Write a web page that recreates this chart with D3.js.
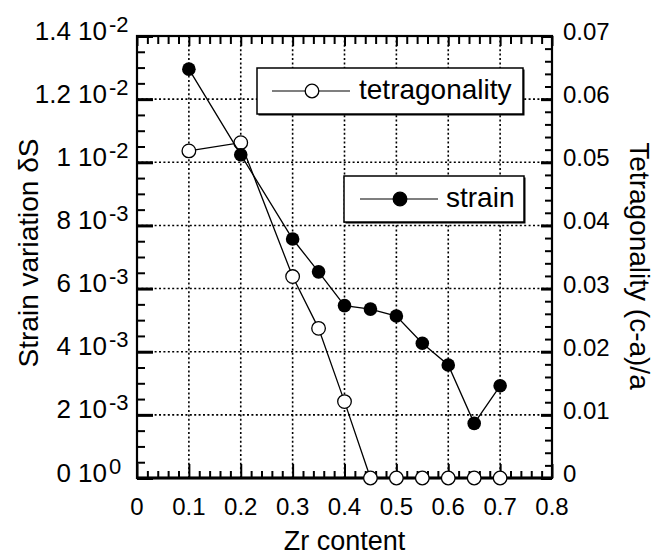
<!DOCTYPE html>
<html>
<head>
<meta charset="utf-8">
<script src="https://cdn.jsdelivr.net/npm/d3@7"></script>
<style>
  html, body { margin: 0; padding: 0; background: #fff; }
  svg { display: block; font-family: "Liberation Sans", Arial, Helvetica, sans-serif; }
</style>
</head>
<body>
<svg id="chart" width="667" height="556"></svg>
<script>
// ---- data ----
const zrContent = [0.1, 0.2, 0.3, 0.35, 0.4, 0.45, 0.5, 0.55, 0.6, 0.65, 0.7];
const strainValues = [0.01295, 0.01024, 0.00757, 0.00653, 0.00546, 0.00535, 0.00513, 0.00427, 0.00358, 0.00173, 0.00292];
const tetragonalityValues = [0.0518, 0.0531, 0.0319, 0.0237, 0.0121, 0, 0, 0, 0, 0, 0];

const xTicks = [0, 0.1, 0.2, 0.3, 0.4, 0.5, 0.6, 0.7, 0.8];
const xTickLabels = ["0", "0.1", "0.2", "0.3", "0.4", "0.5", "0.6", "0.7", "0.8"];
const leftTicks = [0, 0.002, 0.004, 0.006, 0.008, 0.010, 0.012, 0.014];
const leftTickMantissa = ["0", "2", "4", "6", "8", "1", "1.2", "1.4"];
const leftTickExponent = ["0", "-3", "-3", "-3", "-3", "-2", "-2", "-2"];
const rightTicks = [0, 0.01, 0.02, 0.03, 0.04, 0.05, 0.06, 0.07];
const rightTickLabels = ["0", "0.01", "0.02", "0.03", "0.04", "0.05", "0.06", "0.07"];

const xTitle = "Zr content";
const leftTitle = "Strain variation δS";
const rightTitle = "Tetragonality (c-a)/a";
const legendLabels = ["tetragonality", "strain"];

// ---- layout ----
const svg = d3.select("#chart");
const L = 137, R = 552, T = 36, B = 478;
const x = d3.scaleLinear().domain([0, 0.8]).range([L, R]);
const yL = d3.scaleLinear().domain([0, 0.014]).range([B, T]);
const yR = d3.scaleLinear().domain([0, 0.07]).range([B, T]);

// gridlines
const grid = svg.append("g").attr("stroke", "#000").attr("stroke-width", 1.6).attr("stroke-dasharray", "2,2.4");
grid.selectAll("line.v").data(xTicks.slice(1, -1)).join("line")
  .attr("x1", d => x(d)).attr("x2", d => x(d)).attr("y1", T).attr("y2", B);
grid.selectAll("line.h").data(leftTicks.slice(1, -1)).join("line")
  .attr("x1", L).attr("x2", R).attr("y1", d => yL(d)).attr("y2", d => yL(d));

// minor tick values
const xMinor = d3.range(0, 41).map(i => i * 0.02).filter(v => Math.abs(v * 10 - Math.round(v * 10)) > 1e-6);
const leftMinor = d3.range(0, 29).map(i => i * 0.0005).filter(v => Math.abs(v / 0.002 - Math.round(v / 0.002)) > 1e-6);
const rightMinor = d3.range(0, 36).map(i => i * 0.002).filter(v => Math.abs(v / 0.01 - Math.round(v / 0.01)) > 1e-6);

function axisTicks(axis, transform, width) {
  const g = svg.append("g").attr("transform", transform).call(axis);
  g.select(".domain").remove();
  g.selectAll("line").attr("stroke", "#000").attr("stroke-width", width);
  g.selectAll("text").remove();
  return g;
}
// bottom
axisTicks(d3.axisBottom(x).tickValues(xTicks).tickSize(-14).tickFormat(""), `translate(0,${B})`, 2);
axisTicks(d3.axisBottom(x).tickValues(xMinor).tickSize(-7).tickFormat(""), `translate(0,${B})`, 2);
// top
axisTicks(d3.axisTop(x).tickValues(xTicks).tickSize(-10).tickFormat(""), `translate(0,${T})`, 2);
axisTicks(d3.axisTop(x).tickValues(xMinor).tickSize(-8).tickFormat(""), `translate(0,${T})`, 2);
// left
axisTicks(d3.axisLeft(yL).tickValues(leftTicks).tickSize(-16).tickFormat(""), `translate(${L},0)`, 3);
axisTicks(d3.axisLeft(yL).tickValues(leftMinor).tickSize(-8).tickFormat(""), `translate(${L},0)`, 2);
// right
axisTicks(d3.axisRight(yR).tickValues(rightTicks).tickSize(-11).tickFormat(""), `translate(${R},0)`, 3);
axisTicks(d3.axisRight(yR).tickValues(rightMinor).tickSize(-7).tickFormat(""), `translate(${R},0)`, 2);

// frame
svg.append("rect").attr("x", L).attr("y", T).attr("width", R - L).attr("height", B - T)
  .attr("fill", "none").attr("stroke", "#000").attr("stroke-width", 2.2);
svg.append("line").attr("x1", L).attr("x2", R).attr("y1", B).attr("y2", B).attr("stroke", "#000").attr("stroke-width", 3);

// tick labels
const fs = 24;
svg.append("g").selectAll("text").data(xTicks).join("text")
  .attr("x", d => x(d)).attr("y", 515).attr("text-anchor", "middle")
  .attr("font-size", fs).text((d, i) => xTickLabels[i]);

const lg = svg.append("g");
lg.selectAll("text.m").data(leftTicks).join("text").attr("class", "m")
  .attr("x", 107).attr("y", d => yL(d) + 3.5).attr("text-anchor", "end").attr("font-size", 26)
  .text((d, i) => leftTickMantissa[i] + " 10");
lg.selectAll("text.e").data(leftTicks).join("text").attr("class", "e")
  .attr("x", 109).attr("y", d => yL(d) - 4.5).attr("text-anchor", "start").attr("font-size", 22)
  .text((d, i) => leftTickExponent[i]);

svg.append("g").selectAll("text").data(rightTicks).join("text")
  .attr("x", 563).attr("y", d => yR(d) + 4).attr("text-anchor", "start")
  .attr("font-size", fs).text((d, i) => rightTickLabels[i]);

// axis titles
svg.append("text").attr("x", (L + R) / 2).attr("y", 550).attr("text-anchor", "middle")
  .attr("font-size", 27).text(xTitle);
svg.append("text").attr("transform", "translate(38,253) rotate(-90)").attr("text-anchor", "middle")
  .attr("font-size", 28).text(leftTitle);
svg.append("text").attr("transform", "translate(630,266) rotate(90)").attr("text-anchor", "middle")
  .attr("font-size", 28).text(rightTitle);

// series
const tetraLine = d3.line().x((d, i) => x(zrContent[i])).y(d => yR(d));
const strainLine = d3.line().x((d, i) => x(zrContent[i])).y(d => yL(d));
const r = 6.8;

svg.append("path").datum(tetragonalityValues).attr("d", tetraLine)
  .attr("fill", "none").attr("stroke", "#000").attr("stroke-width", 1.3);
svg.append("g").selectAll("circle").data(tetragonalityValues).join("circle")
  .attr("cx", (d, i) => x(zrContent[i])).attr("cy", d => yR(d)).attr("r", r)
  .attr("fill", "#fff").attr("stroke", "#000").attr("stroke-width", 1.3);

svg.append("path").datum(strainValues).attr("d", strainLine)
  .attr("fill", "none").attr("stroke", "#000").attr("stroke-width", 1.3);
svg.append("g").selectAll("circle").data(strainValues).join("circle")
  .attr("cx", (d, i) => x(zrContent[i])).attr("cy", d => yL(d)).attr("r", r)
  .attr("fill", "#000");

// legends
function legend(x0, y0, w, h, filled, label, lx1, lx2, cx, tx) {
  const g = svg.append("g");
  g.append("rect").attr("x", x0 + 1.5).attr("y", y0 + 1.5).attr("width", w).attr("height", h).attr("fill", "#000");
  g.append("rect").attr("x", x0).attr("y", y0).attr("width", w).attr("height", h)
    .attr("fill", "#fff").attr("stroke", "#000").attr("stroke-width", 1.5);
  const cy = y0 + h / 2;
  g.append("line").attr("x1", lx1).attr("x2", lx2).attr("y1", cy).attr("y2", cy)
    .attr("stroke", "#000").attr("stroke-width", 1.2);
  g.append("circle").attr("cx", cx).attr("cy", cy).attr("r", r)
    .attr("fill", filled ? "#000" : "#fff").attr("stroke", "#000").attr("stroke-width", 1.3);
  g.append("text").attr("x", tx).attr("y", cy + 8).attr("font-size", 28).text(label);
}
legend(257, 68, 266, 46, false, legendLabels[0], 272, 350, 312, 359);
legend(344, 176, 180, 46, true, legendLabels[1], 360, 438, 400, 446);
</script>
</body>
</html>
